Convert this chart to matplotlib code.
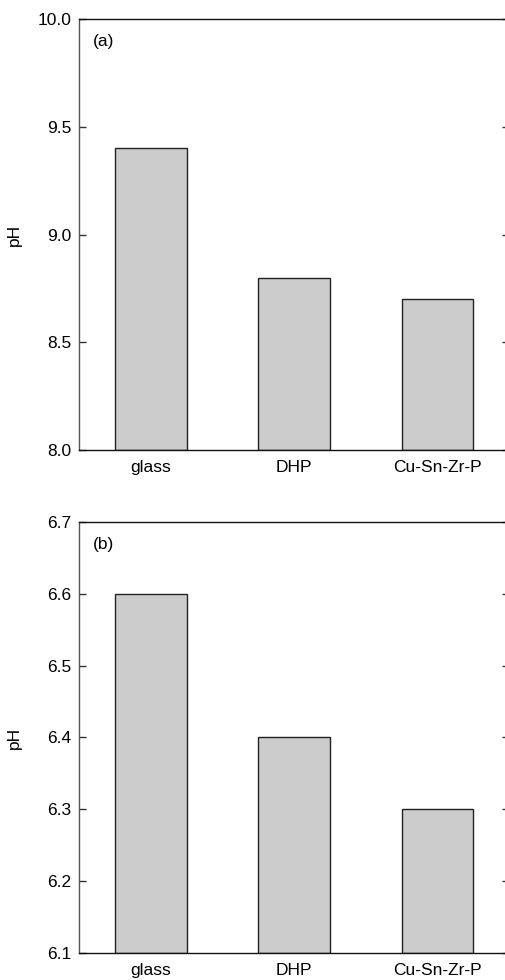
"""Bar charts of pH for glass, DHP and Cu-Sn-Zr-P, panels (a) and (b)."""
import matplotlib

matplotlib.use("Agg")
import matplotlib.pyplot as plt

plt.rcParams["font.family"] = ["Liberation Sans", "DejaVu Sans"]

materials = ["glass", "DHP", "Cu-Sn-Zr-P"]
ph_a = [9.4, 8.8, 8.7]
ph_b = [6.6, 6.4, 6.3]

panels = [
    ("(a)", ph_a, (8.0, 10.0), [8.0, 8.5, 9.0, 9.5, 10.0], "{:.1f}"),
    ("(b)", ph_b, (6.1, 6.7), [6.1, 6.2, 6.3, 6.4, 6.5, 6.6, 6.7], "{:.1f}"),
]

W, H = 505, 980
fig = plt.figure(figsize=(W / 100, H / 100), dpi=100)

left, right = 79, 509
boxes = [(19, 450), (522, 953)]

for (tag, values, ylim, yticks, fmt), (top, bottom) in zip(panels, boxes):
    ax = fig.add_axes([left / W, 1 - bottom / H, (right - left) / W, (bottom - top) / H])
    x = range(len(materials))
    ax.bar(x, [v - ylim[0] for v in values], bottom=ylim[0], width=0.5,
           color="#cccccc", edgecolor="#222222", linewidth=1.0)
    ax.set_xlim(-0.5, len(materials) - 0.5)
    ax.set_ylim(*ylim)
    ax.set_yticks(yticks)
    ax.set_yticklabels([fmt.format(t) for t in yticks])
    ax.set_xticks(list(x))
    ax.set_xticklabels(materials)
    ax.tick_params(axis="y", direction="in", length=5, width=1, labelsize=12.5,
                   pad=5.5, right=True, color="#333333")
    ax.tick_params(axis="x", length=0, labelsize=12.5, pad=7)
    for side in ("top", "bottom", "left", "right"):
        ax.spines[side].set_linewidth(1.0)
        ax.spines[side].set_color("#111111")
    ax.spines["left"].set_color("#555555")
    ax.set_ylabel("pH", fontsize=12.5)
    ax.yaxis.set_label_coords(-0.133, 0.5)
    ax.annotate(tag, xy=(0, 1), xycoords="axes fraction", xytext=(10, -11),
                textcoords="offset points", ha="left", va="top", fontsize=12.5)

fig.savefig("out.png", dpi=100)
